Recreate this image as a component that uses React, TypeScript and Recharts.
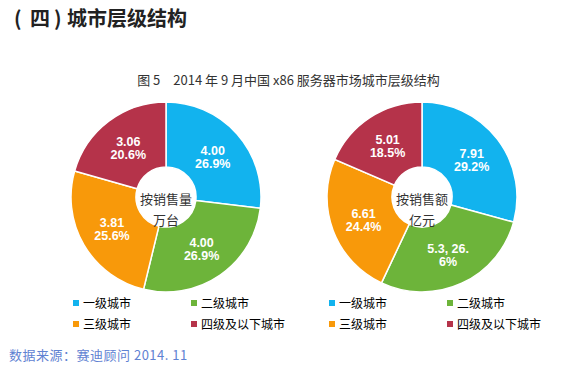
import { PieChart, Pie, Cell } from "recharts";

const categories = ["一级城市", "二级城市", "三级城市", "四级及以下城市"];
const colors = ["#12B3EE", "#6DB43A", "#F8990A", "#B5334A"];

// left pie: sales volume (万台)
const volumeValues = [4.0, 4.0, 3.81, 3.06];
const volumeLabels = [["4.00", "26.9%"], ["4.00", "26.9%"], ["3.81", "25.6%"], ["3.06", "20.6%"]];

// right pie: sales amount (亿元)
const amountValues = [7.91, 7.5, 6.61, 5.01];
const amountLabels = [["7.91", "29.2%"], ["5.3, 26.", "6%"], ["6.61", "24.4%"], ["5.01", "18.5%"]];

const volumeData = categories.map((name, i) => ({ name, value: volumeValues[i] }));
const amountData = categories.map((name, i) => ({ name, value: amountValues[i] }));

const RADIAN = Math.PI / 180;
const cnFont = '"Noto Sans CJK SC", "Noto Sans", sans-serif';

const makeLabel = (labels: string[][]) => (props: any) => {
  const { cx, cy, midAngle, innerRadius, outerRadius, index } = props;
  const r = (innerRadius + outerRadius) / 2;
  const x = cx + r * Math.cos(-midAngle * RADIAN);
  const y = cy + r * Math.sin(-midAngle * RADIAN);
  const lines = labels[index];
  return (
    <text
      x={x}
      y={y}
      fill="#fff"
      textAnchor="middle"
      fontSize={12.5}
      fontWeight="bold"
      fontFamily='"Liberation Sans", Arial, sans-serif'
    >
      <tspan x={x} dy={-1}>{lines[0]}</tspan>
      <tspan x={x} dy={13}>{lines[1]}</tspan>
    </text>
  );
};

function LegendBlock({ left }: { left: number }) {
  const pos = [
    [0, 0],
    [118, 0],
    [0, 21],
    [118, 21],
  ];
  return (
    <>
      {categories.map((c, i) => (
        <div
          key={c}
          style={{
            position: "absolute",
            left: left + pos[i][0],
            top: 296 + pos[i][1],
            fontSize: 12,
            fontFamily: cnFont,
            color: "#000",
            display: "flex",
            alignItems: "center",
            lineHeight: "14px",
          }}
        >
          <span style={{ width: 6, height: 6, background: colors[i], marginRight: 4 }} />
          {c}
        </div>
      ))}
    </>
  );
}

function CenterText({ x, lines }: { x: number; lines: string[] }) {
  const style: any = {
    position: "absolute",
    left: x - 40,
    width: 80,
    textAlign: "center",
    fontSize: 13,
    fontFamily: cnFont,
    color: "#333",
  };
  return (
    <>
      <div style={{ ...style, top: 189 }}>{lines[0]}</div>
      <div style={{ ...style, top: 210 }}>{lines[1]}</div>
    </>
  );
}

export default function App() {
  const titleStyle: any = {
    position: "absolute",
    top: 3,
    fontSize: 20,
    fontWeight: "bold",
    fontFamily: cnFont,
    color: "#222",
  };
  return (
    <div style={{ position: "absolute", left: 0, top: 0, width: 575, height: 366, background: "#fff" }}>
      <div style={{ ...titleStyle, left: 14 }}>(</div>
      <div style={{ ...titleStyle, left: 30 }}>四</div>
      <div style={{ ...titleStyle, left: 54 }}>)</div>
      <div style={{ ...titleStyle, left: 67 }}>城市层级结构</div>
      <div style={{ position: "absolute", left: 0, width: 577, top: 70, textAlign: "center", fontSize: 13, fontFamily: cnFont, color: "#333" }}>
        图 5　2014 年 9 月中国 x86 服务器市场城市层级结构
      </div>
      <div style={{ position: "absolute", left: 0, top: 0 }}>
        <PieChart width={575} height={366} margin={{ top: 0, right: 0, bottom: 0, left: 0 }}>
          <Pie
            data={volumeData}
            dataKey="value"
            cx={166}
            cy={197}
            innerRadius={30}
            outerRadius={95}
            startAngle={90}
            endAngle={-270}
            stroke="#fff"
            strokeWidth={1.5}
            label={makeLabel(volumeLabels)}
            labelLine={false}
            isAnimationActive={false}
          >
            {volumeData.map((d, i) => (
              <Cell key={d.name} fill={colors[i]} />
            ))}
          </Pie>
          <Pie
            data={amountData}
            dataKey="value"
            cx={422}
            cy={197}
            innerRadius={30}
            outerRadius={95}
            startAngle={90}
            endAngle={-270}
            stroke="#fff"
            strokeWidth={1.5}
            label={makeLabel(amountLabels)}
            labelLine={false}
            isAnimationActive={false}
          >
            {amountData.map((d, i) => (
              <Cell key={d.name} fill={colors[i]} />
            ))}
          </Pie>
        </PieChart>
      </div>
      <CenterText x={166} lines={["按销售量", "万台"]} />
      <CenterText x={422} lines={["按销售额", "亿元"]} />
      <LegendBlock left={73} />
      <LegendBlock left={329} />
      <div style={{ position: "absolute", left: 9, top: 345, fontSize: 13, letterSpacing: 0.5, fontFamily: cnFont, color: "#5F82D2" }}>
        数据来源：赛迪顾问 2014. 11
      </div>
    </div>
  );
}
